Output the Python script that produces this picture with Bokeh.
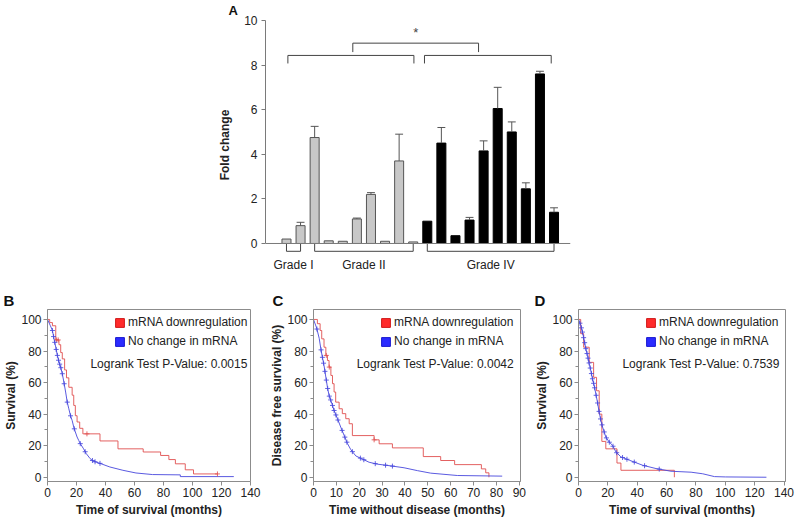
import numpy as np
from bokeh.plotting import figure
from bokeh.layouts import column, row
from bokeh.models import (Range1d, Label, Legend, LegendItem, FixedTicker,
                          SingleIntervalTicker, Span)
from bokeh.core.properties import value
from bokeh.embed import file_html
from bokeh.resources import INLINE

FONT = "Liberation Sans"
TXT = "#222222"
AXC = "#7a7a7a"

# ---------------- Panel A data ----------------
bar_index = list(range(1, 21))
fold_change = [0.20, 0.80, 4.75, 0.12, 0.10, 1.10, 2.20, 0.10, 3.70, 0.07,
               1.00, 4.50, 0.35, 1.05, 4.15, 6.05, 5.00, 2.45, 7.60, 1.40]
fold_err = [0.00, 0.15, 0.50, 0.00, 0.00, 0.04, 0.08, 0.00, 1.20, 0.00,
            0.00, 0.70, 0.00, 0.12, 0.45, 0.95, 0.45, 0.27, 0.12, 0.20]
bar_grade = ["Grade I"] * 2 + ["Grade II"] * 8 + ["Grade IV"] * 10
grade_names = ["Grade I", "Grade II", "Grade IV"]
grade_fill = {"Grade I": "#c8c8c8", "Grade II": "#c8c8c8", "Grade IV": "#000000"}
grade_line = {"Grade I": "#555555", "Grade II": "#555555", "Grade IV": "#000000"}
y_ticks_A = [0, 2, 4, 6, 8, 10]
# significance brackets (x spans) and star
sig_spans = [[1.1, 10.05], [10.8, 19.8]]
sig_level = [8.07, 8.43]
sig_top_span = [5.71, 14.64]
sig_top_level = [8.58, 8.98]
sig_star_y = 9.45

# ---------------- Panel B data ----------------
B_red_t = [0, 1.5, 3.4, 5.7, 7.9, 9.1, 10.2, 11.8, 13.1, 14.7, 17.0, 18.1, 19.2, 20.4,
           22.2, 24.4, 36.2, 48.6, 66.0, 78.0, 83.7, 88.2, 95.0, 100.7, 117.2]
B_red_s = [100, 98, 96, 87, 84, 79, 75, 68, 63, 57, 52, 45.5, 39, 35,
           31, 27.5, 23, 18, 16, 13.8, 11.2, 8.5, 4.7, 2.1, 2.1]
B_red_cens = [6.3, 7.4, 27.2, 117.2]
B_blue_t = [0, 2.0, 3.4, 4.5, 5.7, 6.8, 7.9, 9.1, 10.2, 11.3, 12.5, 13.6, 14.7, 15.8,
            17.0, 18.1, 19.2, 20.4, 21.5, 22.6, 24.9, 26.7, 29.4, 31.7, 35.0, 43.0,
            52.0, 61.0, 72.4, 91.6, 91.6, 128.5]
B_blue_s = [100, 96, 93, 87.7, 82.4, 77.2, 73, 69.8, 65.6, 60.3, 54, 47.6, 43.4, 39.2,
            36, 31.8, 28.7, 25.5, 23.4, 21.3, 18, 15, 11.8, 10.1, 9.2, 6.5,
            4.4, 2.7, 1.7, 1.5, 0.4, 0.4]
B_blue_cens = [3.4, 4.2, 5.0, 6.0, 6.8, 7.6, 8.4, 9.2, 10.2, 11.5, 13.6, 15.9,
               18.5, 22.6, 26.0, 31.0, 32.8, 36.2]

# ---------------- Panel C data ----------------
C_red_t = [0, 1.7, 2.9, 3.6, 4.6, 5.4, 6.1, 6.8, 7.6, 8.3, 9.0, 9.7, 11.2, 12.6,
           14.1, 15.6, 17.0, 26.5, 28.7, 34.5, 48.0, 55.6, 61.7, 73.4, 75.3, 76.7]
C_red_s = [100, 97.3, 93, 87.7, 82.4, 77.2, 74, 69.8, 64.5, 59.3, 54, 47.6, 43.4, 40.3,
           37.1, 33.9, 26.4, 23.7, 21.2, 18.6, 13.1, 10.6, 8.0, 5.3, 2.8, 0]
C_red_cens = [5.6, 6.9, 26.5]
C_blue_t = [0, 1.4, 2.5, 3.2, 3.9, 4.6, 5.4, 6.1, 6.8, 7.6, 8.3, 9.0, 10.5, 11.9,
            13.4, 14.8, 16.3, 18.5, 21.4, 24.3, 27.9, 33.8, 39.6, 45.4, 51.2, 62.9, 82.5]
C_blue_s = [100, 94.5, 88, 81.5, 76, 70.8, 63.4, 57, 51.8, 48.6, 45.5, 42.3, 37, 31.8,
            26.5, 21.5, 17.5, 13.5, 11.5, 9.5, 8.3, 7.2, 6.0, 4.2, 2.6, 1.1, 0.7]
C_blue_cens = [1.5, 3.3, 3.9, 4.4, 5.0, 5.6, 6.2, 6.9, 7.5, 8.3, 9.0, 9.8, 10.7,
               12.5, 13.7, 14.6, 17.0, 20.5, 22.0, 27.0, 31.5, 34.5]

# ---------------- Panel D data ----------------
D_red_t = [0, 1.5, 3.5, 7.3, 10.3, 12.3, 14.1, 15.9, 18.6, 26.2, 28.9, 65.3]
D_red_s = [100, 91, 82.4, 72.8, 63.3, 54.8, 40, 22.7, 18, 9, 4.4, 0]
D_red_cens = []
D_blue_t = [0, 1.6, 2.7, 3.9, 5.0, 6.1, 7.3, 8.4, 9.5, 10.7, 11.8, 12.9, 14.1, 15.2,
            16.4, 17.5, 18.6, 20.9, 23.2, 25.5, 28.9, 34.6, 43.7, 52.8, 63.0, 76.7,
            84.6, 92.6, 100.0, 128.0]
D_blue_s = [100, 96.2, 92, 86.7, 81.5, 77.2, 72, 67.6, 62.4, 58.1, 52.9, 47.6, 41.2, 36,
            31.8, 28.7, 25.5, 22.3, 20.2, 16, 12.9, 10.8, 7.6, 5.5, 3.8, 3.2,
            2.2, 0.4, 0.2, 0]
D_blue_cens = [1.0, 2.0, 2.7, 3.5, 4.2, 5.0, 5.8, 6.5, 7.2, 8.0, 8.8, 9.5, 10.3, 11.0,
               12.0, 13.0, 14.0, 15.0, 16.0, 17.5, 19.0, 21.0, 23.5, 26.0, 30.0, 33.0,
               38.0, 45.0, 55.0]

legend_labels = ["mRNA downregulation", "No change in mRNA"]

# ======================= Panel A =======================
pA = figure(width=796, height=280, x_range=Range1d(-0.49, 21.17),
            y_range=Range1d(-1.30, 10.13), x_axis_location=None,
            toolbar_location=None, output_backend="svg",
            min_border_left=265, min_border_right=226,
            min_border_top=17, min_border_bottom=8)
pA.outline_line_color = None
pA.xgrid.visible = False
pA.ygrid.visible = False
pA.title.text = "A"
pA.title.align = "left"
pA.title.offset = -37
pA.title.standoff = 0
pA.title.text_font = FONT
pA.title.text_font_size = "13px"
pA.title.text_font_style = "bold"
pA.title.text_color = "#111111"

yA = pA.yaxis[0]
yA.ticker = FixedTicker(ticks=y_ticks_A)
yA.bounds = (0, 10)
yA.axis_line_color = AXC
yA.major_tick_line_color = AXC
yA.minor_tick_line_color = None
yA.major_tick_in = 0
yA.major_tick_out = 4
yA.major_label_standoff = 4
yA.major_label_text_font = FONT
yA.major_label_text_font_size = "12px"
yA.major_label_text_color = TXT
yA.axis_label = "Fold change"
yA.axis_label_text_font = FONT
yA.axis_label_text_font_style = "bold"
yA.axis_label_text_font_size = "12px"
yA.axis_label_text_color = TXT
yA.axis_label_standoff = 9

pA.add_layout(Span(location=0, dimension="width", line_color=AXC, line_width=1))

pA.vbar(x=bar_index, top=fold_change, bottom=0, width=0.64,
        fill_color=[grade_fill[g] for g in bar_grade],
        line_color=[grade_line[g] for g in bar_grade], line_width=1)

ex, ey0, ey1, cx0, cx1, cy = [], [], [], [], [], []
for xb, v, e in zip(bar_index, fold_change, fold_err):
    if e > 0:
        ex.append(xb); ey0.append(v); ey1.append(v + e)
        cx0.append(xb - 0.28); cx1.append(xb + 0.28); cy.append(v + e)
pA.segment(x0=ex, y0=ey0, x1=ex, y1=ey1, line_color="#555555", line_width=1)
pA.segment(x0=cx0, y0=cy, x1=cx1, y1=cy, line_color="#555555", line_width=1)

# grade brackets below axis
gxs, gys, gmid = [], [], []
for g in grade_names:
    idx = [b for b, gg in zip(bar_index, bar_grade) if gg == g]
    a, b = min(idx), max(idx)
    gxs.append([a, a, b, b]); gys.append([0, -0.35, -0.35, 0]); gmid.append((a + b) / 2)
pA.multi_line(xs=gxs, ys=gys, line_color="#444444", line_width=1)
pA.text(x=gmid, y=[-0.98] * len(gmid), text=grade_names, text_font=value(FONT),
        text_font_size="12px", text_color=TXT, text_align="center",
        text_baseline="middle")

# significance brackets
sxs = [[a, a, b, b] for a, b in sig_spans]
sys_ = [[sig_level[0], sig_level[1], sig_level[1], sig_level[0]] for _ in sig_spans]
sxs.append([sig_top_span[0], sig_top_span[0], sig_top_span[1], sig_top_span[1]])
sys_.append([sig_top_level[0], sig_top_level[1], sig_top_level[1], sig_top_level[0]])
pA.multi_line(xs=sxs, ys=sys_, line_color="#444444", line_width=1)
pA.add_layout(Label(x=(sig_top_span[0] + sig_top_span[1]) / 2, y=sig_star_y, text="*",
                    text_font=FONT, text_font_size="13px", text_color="#444444",
                    text_align="center", text_baseline="middle"))

# ======================= KM panels =======================
KM_H, KM_TOP, KM_BOTTOM = 240, 29, 39
FRAME_H = KM_H - KM_TOP - KM_BOTTOM
Y0, Y1 = -2.7, 106.3
RED_LINE = "#e05050"
BLUE_LINE = "#4848dd"
LEG_H = 33  # two 14px rows + 5px spacing


def km_panel(width, bl, br, xmax, xstep, ylab, xlab,
             red_t, red_s, red_c, blue_t, blue_s, blue_c,
             ptxt, ptxt_x, letter, letter_off):
    p = figure(width=width, height=KM_H, x_range=Range1d(0, xmax),
               y_range=Range1d(Y0, Y1), toolbar_location=None, output_backend="svg",
               min_border_left=bl, min_border_right=br,
               min_border_top=KM_TOP, min_border_bottom=KM_BOTTOM)
    p.outline_line_color = "#8c8c8c"
    p.xgrid.visible = False
    p.ygrid.visible = False
    p.title.text = letter
    p.title.align = "left"
    p.title.offset = letter_off
    p.title.standoff = 2
    p.title.text_font = FONT
    p.title.text_font_size = "15px"
    p.title.text_font_style = "bold"
    p.title.text_color = "#111111"
    for ax in (p.xaxis[0], p.yaxis[0]):
        ax.axis_line_color = "#8c8c8c"
        ax.major_tick_line_color = "#8c8c8c"
        ax.minor_tick_line_color = "#8c8c8c"
        ax.major_tick_in = 0
        ax.major_tick_out = 4
        ax.minor_tick_in = 0
        ax.minor_tick_out = 3
        ax.major_label_standoff = 2
        ax.major_label_text_font = FONT
        ax.major_label_text_font_size = "12px"
        ax.major_label_text_color = TXT
        ax.axis_label_text_font = FONT
        ax.axis_label_text_font_style = "bold"
        ax.axis_label_text_font_size = "12px"
        ax.axis_label_text_color = TXT
    p.xaxis[0].ticker = SingleIntervalTicker(interval=xstep, num_minor_ticks=0)
    p.yaxis[0].ticker = SingleIntervalTicker(interval=20, num_minor_ticks=2)
    p.xaxis[0].axis_label = xlab
    p.yaxis[0].axis_label = ylab
    p.xaxis[0].axis_label_standoff = 3
    p.yaxis[0].axis_label_standoff = 0

    # curves
    p.step(red_t, red_s, mode="after", line_color=RED_LINE, line_width=1, line_alpha=0.9)
    p.line(blue_t, blue_s, line_color=BLUE_LINE, line_width=1, line_alpha=0.9)
    if len(red_c):
        rt = np.array(red_t)
        ri = np.searchsorted(rt, np.array(red_c), side="right") - 1
        p.scatter(red_c, list(np.array(red_s)[ri]), marker="cross", size=5,
                  line_color=RED_LINE, line_width=1, line_alpha=0.85)
    if len(blue_c):
        p.scatter(blue_c, list(np.interp(blue_c, blue_t, blue_s)), marker="cross",
                  size=5, line_color=BLUE_LINE, line_width=1, line_alpha=0.85)

    # legend proxies (not drawn in the plot area: NaN positions)
    nan = np.array([np.nan])
    r_red = p.vbar(x=nan, top=nan, bottom=nan, width=1,
                   fill_color="#ff2b2b", line_color="#d01818")
    r_blue = p.vbar(x=nan, top=nan, bottom=nan, width=1,
                    fill_color="#2b2bff", line_color="#1818d0")
    leg = Legend(items=[LegendItem(label=legend_labels[0], renderers=[r_red]),
                        LegendItem(label=legend_labels[1], renderers=[r_blue])],
                 location=(67, FRAME_H - 6 - LEG_H),
                 padding=0, margin=0, spacing=5,
                 glyph_width=11, glyph_height=11, label_height=11, label_standoff=3,
                 label_text_align="left",
                 border_line_color=None, background_fill_alpha=0,
                 label_text_font=FONT, label_text_font_size="12px",
                 label_text_color=TXT)
    p.add_layout(leg)

    p.add_layout(Label(x=ptxt_x, y=72, text=ptxt, text_font=FONT,
                       text_font_size="12px", text_color=TXT,
                       text_align="right", text_baseline="middle"))
    return p


pB = km_panel(265, 47, 15, 140, 20, "Survival (%)", "Time of survival (months)",
              B_red_t, B_red_s, B_red_cens, B_blue_t, B_blue_s, B_blue_cens,
              "Logrank Test P-Value: 0.0015", 138, "B", -44)
pC = km_panel(265, 48, 10, 90.5, 10, "Disease free survival (%)",
              "Time without disease (months)",
              C_red_t, C_red_s, C_red_cens, C_blue_t, C_blue_s, C_blue_cens,
              "Logrank Test P-Value: 0.0042", 87.6, "C", -41)
pD = km_panel(266, 48, 11, 141, 20, "Survival (%)", "Time of survival (months)",
              D_red_t, D_red_s, D_red_cens, D_blue_t, D_blue_s, D_blue_cens,
              "Logrank Test P-Value: 0.7539", 137, "D", -44)

layout = column(pA, row(pB, pC, pD))

open("out.html", "w").write(file_html(layout, INLINE))
